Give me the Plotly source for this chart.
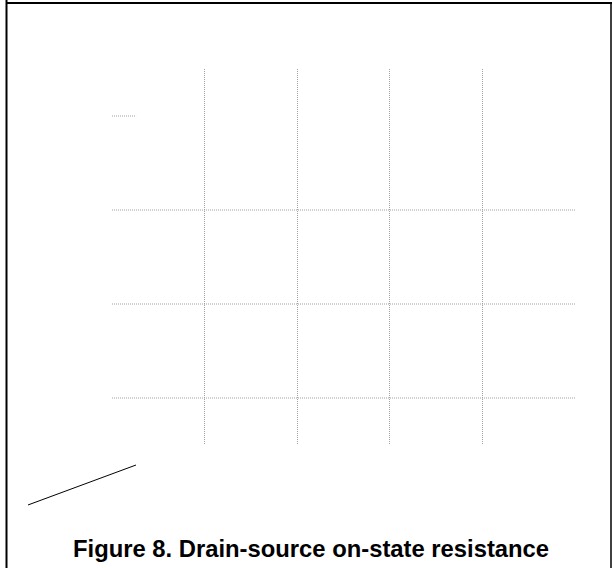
import plotly.graph_objects as go

# ---- data (axis units) ----
x_range = [0, 5]
y_range = [0, 4]
x_grid_ticks = [1, 2, 3, 4]                 # vertical dotted grid lines
y_grid_ticks = [0.5, 1.5, 2.5, 3.5]         # horizontal dotted grid lines
y_grid_x_start = [0, 0, 0, 0]
y_grid_x_end = [5, 5, 5, 0.26]              # top line is only a short stub
diag_x = [-0.907, 0.259]                    # stray line below the plot
diag_y = [-0.638, -0.213]
caption = "Figure 8. Drain-source on-state resistance"

W, H = 612, 568
dom_x = [112 / W, 575 / W]
dom_y = [(H - 445) / H, (H - 69) / H]

# full-page axes with the same scale as the main axes
ux = (dom_x[1] - dom_x[0]) / (x_range[1] - x_range[0])   # paper per unit
uy = (dom_y[1] - dom_y[0]) / (y_range[1] - y_range[0])
x2_range = [x_range[0] - dom_x[0] / ux, x_range[0] + (1 - dom_x[0]) / ux]
y2_range = [y_range[0] - dom_y[0] / uy, y_range[0] + (1 - dom_y[0]) / uy]

grid_color = "#a0a0a0"

fig = go.Figure()

hx, hy = [], []
for gy, xs, xe in zip(y_grid_ticks, y_grid_x_start, y_grid_x_end):
    hx += [xs, xe, None]
    hy += [gy, gy, None]
fig.add_trace(go.Scatter(x=hx, y=hy, mode="lines",
                         line=dict(color=grid_color, width=1, dash="1px,1px"),
                         hoverinfo="skip", showlegend=False))

fig.add_trace(go.Scatter(x=diag_x, y=diag_y, mode="lines", xaxis="x2", yaxis="y2",
                         line=dict(color="black", width=1),
                         hoverinfo="skip", showlegend=False))

fig.update_layout(
    width=W, height=H,
    margin=dict(l=0, r=0, t=0, b=0),
    paper_bgcolor="white", plot_bgcolor="rgba(0,0,0,0)",
    showlegend=False,
    xaxis=dict(domain=dom_x, range=x_range, tickvals=x_grid_ticks,
               showgrid=True, gridcolor=grid_color, griddash="1px,1px", gridwidth=1,
               showticklabels=False, ticks="", zeroline=False, showline=False),
    yaxis=dict(domain=dom_y, range=y_range, showgrid=False,
               showticklabels=False, ticks="", zeroline=False, showline=False),
    xaxis2=dict(domain=[0, 1], range=x2_range, visible=False, anchor="y2"),
    yaxis2=dict(domain=[0, 1], range=y2_range, visible=False, anchor="x2"),
    shapes=[
        dict(type="line", xref="paper", yref="paper", x0=6.5 / W, x1=6.5 / W, y0=0, y1=1,
             line=dict(color="black", width=2)),
        dict(type="line", xref="paper", yref="paper", x0=6 / W, x1=1, y0=(H - 3) / H, y1=(H - 3) / H,
             line=dict(color="black", width=2)),
        dict(type="line", xref="paper", yref="paper", x0=611 / W, x1=611 / W, y0=0, y1=(H - 2) / H,
             line=dict(color="black", width=1.5)),
    ],
    annotations=[
        dict(text="<b>" + caption + "</b>", xref="paper", yref="paper",
             x=311 / W, y=(H - 548) / H, xanchor="center", yanchor="middle",
             showarrow=False,
             font=dict(family="Liberation Sans, Arial, sans-serif", size=23.8, color="black")),
    ],
)

fig.write_html("out.html", config={"displayModeBar": False, "staticPlot": True},
               post_script="document.body.style.margin='0';document.body.style.overflow='hidden';")
